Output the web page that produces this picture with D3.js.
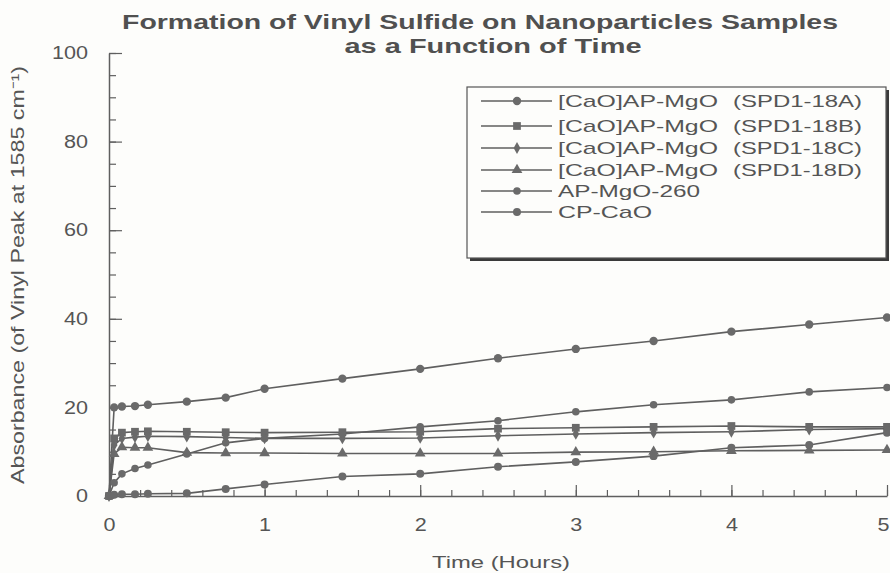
<!DOCTYPE html>
<html>
<head>
<meta charset="utf-8">
<script src="https://cdn.jsdelivr.net/npm/d3@7/dist/d3.min.js"></script>
<style>
  body { margin: 0; background: #fdfdfb; }
  text { font-family: "Liberation Sans", Arial, sans-serif; fill: #555; }
</style>
</head>
<body>
<div id="chart"></div>
<script>
// sampling times (hours)
var times = [0, 0.033, 0.083, 0.167, 0.25, 0.5, 0.75, 1, 1.5, 2, 2.5, 3, 3.5, 4, 4.5, 5];

// absorbance values
var spd18A  = [0, 20.0, 20.2, 20.3, 20.6, 21.3, 22.2, 24.2, 26.5, 28.7, 31.1, 33.2, 35.0, 37.1, 38.7, 40.3];
var spd18B  = [0, 13.0, 14.3, 14.5, 14.6, 14.5, 14.4, 14.3, 14.4, 14.5, 15.2, 15.4, 15.6, 15.8, 15.6, 15.6];
var spd18C  = [0, 11.5, 13.0, 13.3, 13.5, 13.4, 13.2, 13.0, 13.0, 13.1, 13.6, 14.0, 14.3, 14.5, 15.0, 15.2];
var spd18D  = [0, 9.5, 11.0, 10.9, 10.9, 9.8, 9.7, 9.7, 9.6, 9.6, 9.6, 9.9, 10.0, 10.2, 10.3, 10.4];
var apMgO   = [0, 3.0, 5.0, 6.2, 7.0, 9.5, 12.0, 13.0, 14.0, 15.6, 17.0, 19.0, 20.6, 21.7, 23.5, 24.5];
var cpCaO   = [0, 0.3, 0.4, 0.4, 0.5, 0.6, 1.6, 2.6, 4.4, 5.0, 6.6, 7.7, 9.0, 10.9, 11.5, 14.3];

var seriesNames = ["[CaO]AP-MgO", "[CaO]AP-MgO", "[CaO]AP-MgO", "[CaO]AP-MgO", "AP-MgO-260", "CP-CaO"];
var seriesTags  = ["(SPD1-18A)", "(SPD1-18B)", "(SPD1-18C)", "(SPD1-18D)", "", ""];
var xTicks = [0, 1, 2, 3, 4, 5];
var yTicks = [0, 20, 40, 60, 80, 100];

var allSeries = [spd18A, spd18B, spd18C, spd18D, apMgO, cpCaO];
var symbols = [d3.symbolCircle, d3.symbolSquare, d3.symbolDiamond, d3.symbolTriangle, d3.symbolCircle, d3.symbolCircle];
var symSize = [55, 60, 40, 50, 45, 50];

var w = 890, h = 573;
var lineColor = "#5f5f5f";

var svg = d3.select("#chart").append("svg")
  .attr("width", w)
  .attr("height", h);

var xScale = d3.scaleLinear().domain([0, 5]).range([109, 887]);
var yScale = d3.scaleLinear().domain([0, 100]).range([496, 53]);

// title
svg.append("text")
  .attr("x", 480).attr("y", 29)
  .attr("text-anchor", "middle")
  .attr("font-size", 21).attr("font-weight", "bold")
  .attr("textLength", 716).attr("lengthAdjust", "spacingAndGlyphs")
  .style("fill", "#505050")
  .text("Formation of Vinyl Sulfide on Nanoparticles Samples");
svg.append("text")
  .attr("x", 493).attr("y", 53)
  .attr("text-anchor", "middle")
  .attr("font-size", 21).attr("font-weight", "bold")
  .attr("textLength", 297).attr("lengthAdjust", "spacingAndGlyphs")
  .style("fill", "#505050")
  .text("as a Function of Time");

// minor ticks first
svg.append("g")
  .attr("transform", "translate(" + xScale(0) + ",0)")
  .call(d3.axisLeft(yScale).tickValues(d3.range(0, 101, 5)).tickSize(-7).tickFormat(""))
  .call(function(g){ g.select(".domain").remove(); });
svg.append("g")
  .attr("transform", "translate(0," + yScale(0) + ")")
  .call(d3.axisBottom(xScale).tickValues(d3.range(0, 5.01, 0.2)).tickSize(-6).tickFormat(""))
  .call(function(g){ g.select(".domain").remove(); });

// major axes
var yAxis = svg.append("g")
  .attr("transform", "translate(" + xScale(0) + ",0)")
  .call(d3.axisLeft(yScale).tickValues(yTicks).tickFormat(d3.format("d"))
    .tickSize(-13).tickPadding(21).tickSizeOuter(0));
var xAxis = svg.append("g")
  .attr("transform", "translate(0," + yScale(0) + ")")
  .call(d3.axisBottom(xScale).tickValues(xTicks).tickFormat(d3.format("d"))
    .tickSize(-11).tickPadding(22).tickSizeOuter(0));

[xAxis, yAxis].forEach(function(ax){
  ax.select(".domain").attr("stroke", lineColor).attr("stroke-width", 1.5);
  ax.selectAll("text")
    .attr("font-size", 18)
    .attr("font-family", "Liberation Sans, Arial, sans-serif")
    .style("fill", "#555")
    .attr("textLength", function(d){ return String(d).length * 12; })
    .attr("lengthAdjust", "spacingAndGlyphs");
});
// keep the last x label inside the window
xAxis.selectAll("text").filter(function(d){ return d === 5; }).attr("x", -4);
svg.selectAll(".tick line").attr("stroke", lineColor).attr("stroke-width", 1.2);

// axis titles
svg.append("text")
  .attr("transform", "translate(24,275) rotate(-90)")
  .attr("text-anchor", "middle")
  .attr("font-size", 18)
  .attr("textLength", 418).attr("lengthAdjust", "spacingAndGlyphs")
  .text("Absorbance (of Vinyl Peak at 1585 cm\u207B\u00B9)");
svg.append("text")
  .attr("x", 501).attr("y", 568)
  .attr("text-anchor", "middle")
  .attr("font-size", 17)
  .attr("textLength", 138).attr("lengthAdjust", "spacingAndGlyphs")
  .text("Time (Hours)");

// series
var line = d3.line()
  .x(function(d, i){ return xScale(times[i]); })
  .y(function(d){ return yScale(d); });

allSeries.forEach(function(vals, k){
  svg.append("path")
    .attr("d", line(vals))
    .attr("fill", "none")
    .attr("stroke", lineColor)
    .attr("stroke-width", 1.6);
  svg.selectAll(".pt" + k)
    .data(vals)
    .enter()
    .append("path")
    .attr("class", "pt" + k)
    .attr("transform", function(d, i){ return "translate(" + xScale(times[i]) + "," + yScale(d) + ")"; })
    .attr("d", d3.symbol().type(symbols[k]).size(symSize[k]))
    .attr("fill", "#6a6a6a");
});

// legend
var lg = svg.append("g");
lg.append("rect")
  .attr("x", 470).attr("y", 90).attr("width", 419).attr("height", 171)
  .attr("fill", "#3a3a3a");
lg.append("rect")
  .attr("x", 467).attr("y", 87).attr("width", 419).attr("height", 171)
  .attr("fill", "#fdfdfb").attr("stroke", "#555").attr("stroke-width", 1.2);

var rowY = [101, 126, 148, 170, 191, 212];
seriesNames.forEach(function(name, k){
  var y = rowY[k];
  lg.append("line")
    .attr("x1", 481).attr("x2", 552).attr("y1", y).attr("y2", y)
    .attr("stroke", lineColor).attr("stroke-width", 1.6);
  lg.append("path")
    .attr("transform", "translate(517," + y + ")")
    .attr("d", d3.symbol().type(symbols[k]).size(symSize[k]))
    .attr("fill", "#6a6a6a");
  lg.append("text")
    .attr("x", 558).attr("y", y + 6)
    .attr("font-size", 17)
    .attr("textLength", name.length > 10 ? 160 : (name.length === 10 ? 142 : 94))
    .attr("lengthAdjust", "spacingAndGlyphs")
    .text(name);
  if (seriesTags[k]) {
    lg.append("text")
      .attr("x", 733).attr("y", y + 6)
      .attr("font-size", 17)
      .attr("textLength", 129).attr("lengthAdjust", "spacingAndGlyphs")
      .text(seriesTags[k]);
  }
});
</script>
</body>
</html>
